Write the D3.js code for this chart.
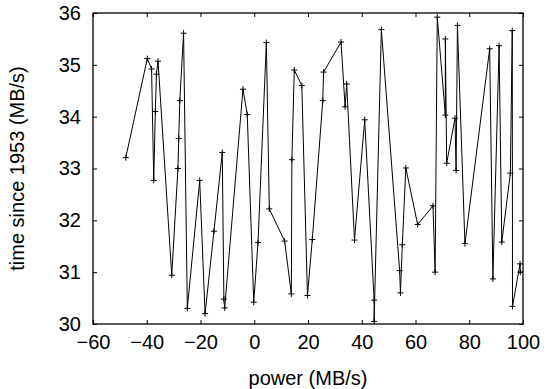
<!DOCTYPE html>
<html lang="en">
<head>
<meta charset="UTF-8">
<title>time vs power</title>
<script src="https://d3js.org/d3.v7.min.js"></script>
<style>
  body { margin: 0; background: #fff; }
  text { font-family: "Liberation Sans", Arial, sans-serif; }
</style>
</head>
<body>
<script>
// data, in drawing order
const power = [-47.8, -39.8, -38.2, -37.4, -36.8, -36.4, -35.8, -30.7, -28.4, -28.1, -27.7, -26.3,
  -24.9, -20.3, -18.3, -15.0, -11.9, -11.3, -11.0, -4.2, -2.6, -0.2, 1.4, 4.5, 5.6, 11.3, 13.8,
  14.0, 14.9, 17.7, 19.8, 21.6, 25.5, 25.8, 32.3, 33.8, 34.4, 37.3, 41.1, 44.6, 44.6, 47.3,
  54.1, 54.4, 55.1, 56.4, 60.8, 66.5, 67.3, 68.1, 71.1, 71.1, 71.6, 74.7, 75.1, 75.6, 78.4,
  87.6, 88.8, 91.1, 92.1, 95.3, 96.0, 96.1, 98.9, 99.0, 103.0];
const time = [33.21, 35.12, 34.92, 32.77, 34.10, 34.82, 35.07, 30.94, 33.00, 33.58, 34.31, 35.61,
  30.30, 32.77, 30.20, 31.79, 33.31, 30.48, 30.31, 34.53, 34.04, 30.42, 31.57, 35.43, 32.22, 31.60, 30.58,
  33.17, 34.90, 34.60, 30.55, 31.63, 34.31, 34.86, 35.44, 34.19, 34.63, 31.62, 33.94, 30.46, 30.05, 35.68,
  31.03, 30.60, 31.53, 33.01, 31.92, 32.28, 31.00, 35.92, 34.03, 35.50, 33.10, 33.97, 32.96, 35.76, 31.55,
  35.31, 30.87, 35.37, 31.58, 32.91, 35.66, 30.34, 31.16, 31.00, 31.00];
const xTicks = [-60, -40, -20, 0, 20, 40, 60, 80, 100];
const yTicks = [30, 31, 32, 33, 34, 35, 36];

const W = 556, H = 389;
const m = {left: 93, right: 33, top: 13, bottom: 65};
const iw = W - m.left - m.right, ih = H - m.top - m.bottom;

const svg = d3.select("body").append("svg")
  .attr("width", W).attr("height", H);

const x = d3.scaleLinear().domain([-60, 100]).range([0, iw]);
const y = d3.scaleLinear().domain([30, 36]).range([ih, 0]);

const g = svg.append("g").attr("transform", `translate(${m.left},${m.top})`);

g.append("clipPath").attr("id", "clip")
  .append("rect").attr("width", iw).attr("height", ih);

const tick = 4;
function styleAxis(sel) {
  sel.select(".domain").remove();
  sel.selectAll("line").attr("stroke", "#000");
  sel.selectAll("text").attr("font-size", 20).attr("fill", "#000");
}
// gnuplot style: ticks point inward, mirrored on top/right
g.append("g").attr("transform", `translate(0,${ih})`)
  .call(d3.axisBottom(x).tickValues(xTicks).tickSize(-tick).tickPadding(11).tickFormat(d3.format("d")))
  .call(styleAxis);
g.append("g")
  .call(d3.axisTop(x).tickValues(xTicks).tickSize(-tick).tickFormat(""))
  .call(styleAxis);
g.append("g")
  .call(d3.axisLeft(y).tickValues(yTicks).tickSize(-tick).tickPadding(12).tickFormat(d3.format("d")))
  .call(styleAxis);
g.append("g").attr("transform", `translate(${iw},0)`)
  .call(d3.axisRight(y).tickValues(yTicks).tickSize(-tick).tickFormat(""))
  .call(styleAxis);

g.append("rect").attr("width", iw).attr("height", ih)
  .attr("fill", "none").attr("stroke", "#000").attr("stroke-width", 1.3);

const pts = power.map((p, i) => [p, time[i]]);
const plot = g.append("g").attr("clip-path", "url(#clip)");

plot.append("path").datum(pts)
  .attr("fill", "none").attr("stroke", "#000").attr("stroke-width", 1)
  .attr("d", d3.line().x(d => x(d[0])).y(d => y(d[1])));

plot.selectAll(".pt").data(pts).join("path")
  .attr("class", "pt")
  .attr("transform", d => `translate(${x(d[0])},${y(d[1])})`)
  .attr("d", "M-3,0H3M0,-3V3")
  .attr("stroke", "#000").attr("stroke-width", 1);

svg.append("text")
  .attr("x", m.left + iw / 2).attr("y", H - 4)
  .attr("text-anchor", "middle").attr("font-size", 20)
  .text("power (MB/s)");

svg.append("text")
  .attr("transform", `translate(17,${m.top + ih / 2}) rotate(-90)`)
  .attr("text-anchor", "middle").attr("dy", "0.35em").attr("font-size", 20)
  .text("time since 1953 (MB/s)");
</script>
</body>
</html>
